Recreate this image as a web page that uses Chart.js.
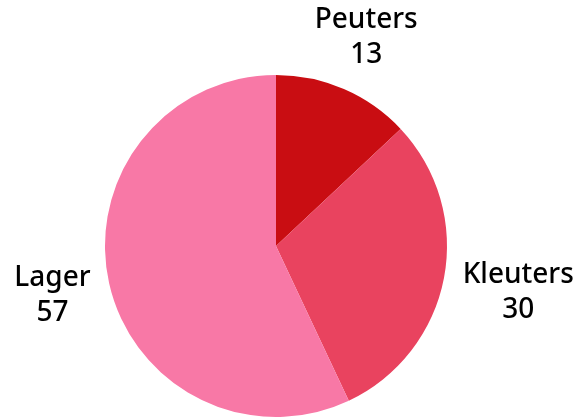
<!DOCTYPE html>
<html>
<head>
<meta charset="utf-8">
<script src="https://cdn.jsdelivr.net/npm/chart.js@4/dist/chart.umd.min.js"></script>
<style>
  html, body { margin: 0; padding: 0; background: #fff; }
  #wrap { width: 574px; height: 418px; }
</style>
</head>
<body>
<div id="wrap"><canvas id="chart" width="574" height="418"></canvas></div>
<script>
const categories = ['Peuters', 'Kleuters', 'Lager'];
const values = [13, 30, 57];
const colors = ['#c90d12', '#e9435f', '#f878a6'];

// draws "name\nvalue" outside each slice, along the slice's mid angle
const outsideLabels = {
  id: 'outsideLabels',
  afterDatasetsDraw(chart) {
    const ctx = chart.ctx;
    const meta = chart.getDatasetMeta(0);
    ctx.save();
    ctx.font = '500 28px "Noto Sans"';
    ctx.fillStyle = '#000';
    ctx.textAlign = 'center';
    ctx.textBaseline = 'middle';
    meta.data.forEach((arc, i) => {
      const mid = (arc.startAngle + arc.endAngle) / 2;
      const dx = Math.cos(mid);
      const dy = Math.sin(mid);
      const lines = [categories[i], String(values[i])];
      const lh = 35;
      const w = Math.max(...lines.map(t => ctx.measureText(t).width));
      const h = 68;
      // distance from box centre to its edge along the direction
      const ext = Math.min(w / 2 / Math.max(Math.abs(dx), 1e-6), h / 2 / Math.max(Math.abs(dy), 1e-6));
      const d = arc.outerRadius + 19 + ext;
      const cx = arc.x + dx * d;
      const cy = arc.y + dy * d;
      ctx.fillText(lines[0], cx, cy - lh / 2);
      ctx.fillText(lines[1], cx, cy + lh / 2);
    });
    ctx.restore();
  }
};

new Chart(document.getElementById('chart'), {
  type: 'pie',
  data: {
    labels: categories,
    datasets: [{
      data: values,
      backgroundColor: colors,
      borderWidth: 0,
    }],
  },
  options: {
    responsive: false,
    animation: false,
    layout: { padding: { top: 75, bottom: 1, left: 105, right: 127 } },
    plugins: {
      legend: { display: false },
      tooltip: { enabled: false },
    },
  },
  plugins: [outsideLabels],
});
</script>
</body>
</html>
